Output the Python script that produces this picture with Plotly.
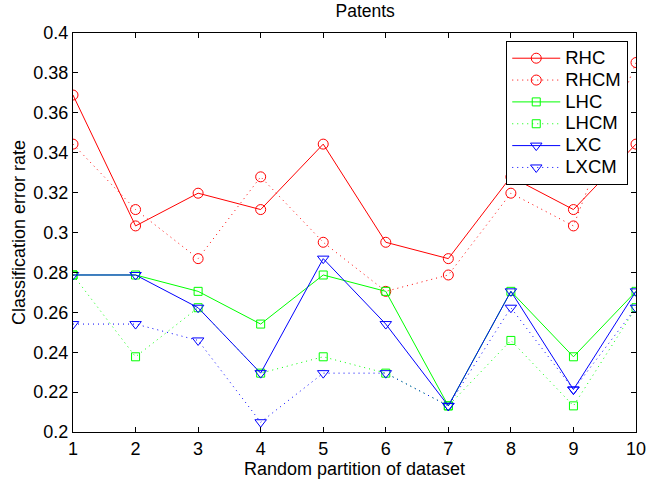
import plotly.graph_objects as go

partitions = list(range(1, 11))

rhc = [0.3689, 0.3033, 0.3197, 0.3115, 0.3443, 0.2951, 0.2869, 0.3279, 0.3115, 0.3443]
rhcm = [0.3443, 0.3115, 0.2869, 0.3279, 0.2951, 0.2705, 0.2787, 0.3197, 0.3033, 0.3852]
lhc = [0.2787, 0.2787, 0.2705, 0.2541, 0.2787, 0.2705, 0.2131, 0.2705, 0.2377, 0.2705]
lhcm = [0.2787, 0.2377, 0.2623, 0.2295, 0.2377, 0.2295, 0.2131, 0.2459, 0.2131, 0.2623]
lxc = [0.2787, 0.2787, 0.2623, 0.2295, 0.2869, 0.2541, 0.2131, 0.2705, 0.2213, 0.2705]
lxcm = [0.2541, 0.2541, 0.2459, 0.2049, 0.2295, 0.2295, 0.2131, 0.2623, 0.2213, 0.2623]

DOTTED = "1px,4px"
series = [
    ("RHC", rhc, "#ff0000", "solid", "circle-open", 10),
    ("RHCM", rhcm, "#ff0000", DOTTED, "circle-open", 10),
    ("LHC", lhc, "#00ff00", "solid", "square-open", 8),
    ("LHCM", lhcm, "#00ff00", DOTTED, "square-open", 8),
    ("LXC", lxc, "#0000ff", "solid", "triangle-down-open", 10),
    ("LXCM", lxcm, "#0000ff", DOTTED, "triangle-down-open", 10),
]

fig = go.Figure()
for name, vals, color, dash, symbol, size in series:
    fig.add_trace(go.Scatter(
        x=partitions, y=vals,
        name=f'<span style="font-size:18.5px">{name}</span>',
        mode="lines+markers",
        line=dict(color=color, width=1, dash=dash),
        marker=dict(symbol=symbol, size=size, color=color,
                    line=dict(color=color, width=1)),
    ))

font_family = "Liberation Sans, Arial, Helvetica, sans-serif"
axis_common = dict(
    showline=True, linecolor="black", linewidth=1.3, mirror="ticks",
    ticks="inside", ticklen=5, tickcolor="black", tickwidth=1,
    showgrid=False, zeroline=False,
    tickfont=dict(family=font_family, size=18, color="black"),
)

fig.update_layout(
    width=658, height=483,
    margin=dict(l=73, r=12, t=33, b=50),
    paper_bgcolor="white", plot_bgcolor="white",
    title=dict(text="Patents", x=0.555, xanchor="center", y=0.99, yanchor="top",
               font=dict(family=font_family, size=17.5, color="black")),
    font=dict(family=font_family, color="black"),
    xaxis=dict(range=[1, 10], tickmode="linear", tick0=1, dtick=1,
               title=dict(text="Random partition of dataset", standoff=0,
                          font=dict(family=font_family, size=18)),
               **axis_common),
    yaxis=dict(range=[0.2, 0.4], tickmode="linear", tick0=0.2, dtick=0.02,
               title=dict(text="Classification error rate", standoff=2,
                          font=dict(family=font_family, size=18)),
               **axis_common),
    legend=dict(x=0.769, y=0.98, xanchor="left", yanchor="top",
                bgcolor="white", bordercolor="black", borderwidth=1.3,
                font=dict(family=font_family, size=14.5, color="black"),
                tracegroupgap=0, itemwidth=48),
    showlegend=True,
)

fig.write_html("out.html")
